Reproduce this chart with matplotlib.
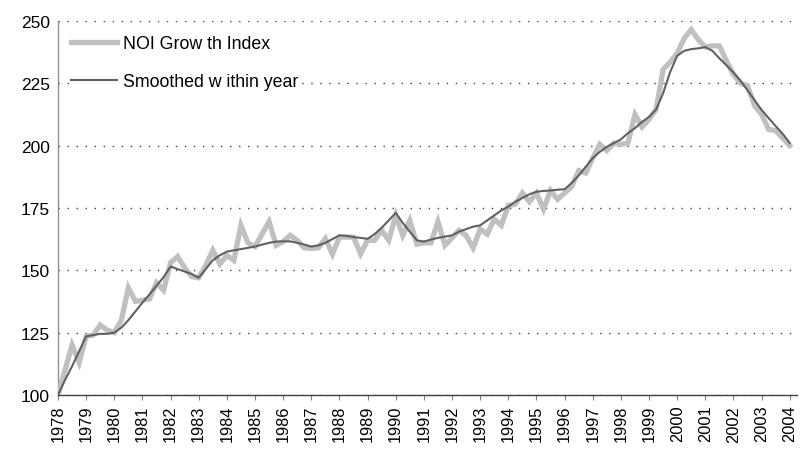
import numpy as np
import matplotlib
matplotlib.use("Agg")
from matplotlib import pyplot as plt

# quarterly values, 1978Q1 .. 2004Q1
noi_index = [
    100, 110, 120, 113,
    123.5, 124, 128, 126,
    125, 130, 143, 137.5,
    138, 138.5, 145, 142,
    153, 155.5, 151, 147.5,
    147, 152, 158, 152.5,
    156, 154, 168, 161,
    159.5, 164.5, 169.5, 160,
    161.5, 164, 162, 159,
    158.8, 159, 162.7, 156.5,
    163.3, 163.3, 163.3, 156.6,
    162, 162, 166, 162,
    172, 164, 170, 160.5,
    161, 161, 169.5, 160,
    163, 166, 164, 159,
    166.5, 164.5, 170.5, 168,
    176, 176.5, 181, 177.5,
    181, 174.5, 182, 178.5,
    181, 183.5, 190, 189,
    195, 200.5, 198, 201,
    200.5, 201, 212.5, 207.5,
    210.5, 214.5, 230.5, 233.5,
    237, 243, 246.5, 242.5,
    239.5, 240, 240, 234,
    228.5, 225, 224, 216,
    212.5, 206.5, 206, 203,
    200,
]

smoothed = [
    100, 106, 111.5, 117.5,
    123.5, 124, 124.5, 124.5,
    125, 127, 130, 133.5,
    137, 140.3, 143.8, 147.2,
    151.5, 150.5, 149.5, 148.5,
    147, 150.5, 154, 156,
    157.5, 158, 158.5, 159,
    159.5, 160.3, 161, 161.5,
    161.6, 161.6, 161, 160.3,
    159.5, 160, 161, 162.5,
    164, 163.8, 163.3, 163,
    162.6, 164.5, 167, 170,
    173, 169, 165.5, 162,
    161.5, 162.3, 163, 163.5,
    164, 165.5, 166.5, 167.5,
    168, 170, 172, 174,
    175.5, 177.5, 179, 180.5,
    181.5, 181.8, 182, 182.3,
    182.5, 185, 188, 191.5,
    195, 197.5, 199.5, 201,
    202.5, 205, 207, 209.5,
    211.5, 214.5, 221, 229.5,
    236, 238, 238.7, 239,
    239.5, 238, 235, 232.2,
    229.3, 226, 222.2, 218.2,
    214.3, 211, 207.8, 204.7,
    201,
]

years = list(range(1978, 2005))
y_ticks = [100, 125, 150, 175, 200, 225, 250]


def main():
    plt.rcParams["font.family"] = ["Liberation Sans", "DejaVu Sans"]

    quarters = years[0] + np.arange(len(noi_index)) / 4.0

    fig = plt.figure(figsize=(8, 4.52), dpi=100)
    ax = fig.add_axes([0.0725, 0.124, 0.9235, 0.8275])

    ax.plot(quarters, noi_index, color="#c0c0c0", lw=3.8,
            solid_joinstyle="miter", label="NOI Grow th Index", zorder=3)
    ax.plot(quarters, smoothed, color="#606060", lw=1.5,
            label="Smoothed w ithin year", zorder=4)

    ax.set_xlim(years[0], years[-1] + 0.25)
    ax.set_ylim(y_ticks[0], y_ticks[-1])

    ax.set_xticks(years)
    ax.set_xticklabels([str(y) for y in years], rotation=90, fontsize=11.8)
    ax.set_yticks(y_ticks)
    ax.set_yticklabels([str(v) for v in y_ticks], fontsize=12.5)

    ax.tick_params(axis="x", direction="out", length=3.6, width=0.8,
                   color="#808080", pad=3.5)
    ax.tick_params(axis="y", length=0, pad=6)

    ax.yaxis.grid(True, color="#404040", lw=1.0, linestyle=(0, (1, 5.5)))
    ax.set_axisbelow(True)

    for side in ["top", "right"]:
        ax.spines[side].set_visible(False)
    ax.spines["left"].set_color("#909090")
    ax.spines["left"].set_linewidth(1.0)
    ax.spines["bottom"].set_color("#404040")
    ax.spines["bottom"].set_linewidth(1.0)

    leg = ax.legend(loc="upper left", bbox_to_anchor=(0.089, 0.92),
                    bbox_transform=fig.transFigure, frameon=True,
                    fancybox=False, fontsize=12.8, handlelength=2.6,
                    handletextpad=0.3, labelspacing=1.2, borderpad=0,
                    borderaxespad=0)
    leg.get_frame().set_facecolor("white")
    leg.get_frame().set_edgecolor("none")
    leg.get_frame().set_alpha(1.0)

    fig.savefig("out.png", dpi=100)
    plt.close(fig)


if __name__ == "__main__":
    main()
